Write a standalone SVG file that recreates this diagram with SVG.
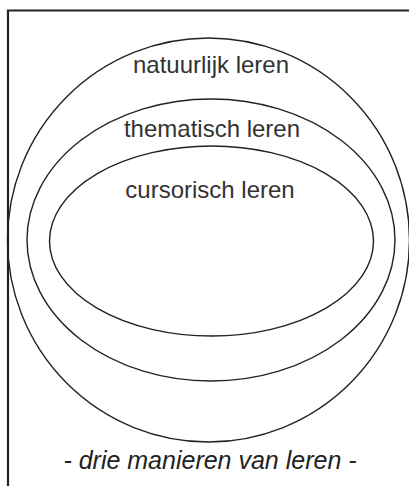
<svg xmlns="http://www.w3.org/2000/svg" width="409" height="486" viewBox="0 0 409 486">
<style>
.frame{fill:none;stroke:#222;stroke-width:2.2}
.ring{fill:none;stroke:#222;stroke-width:1.4}
.lbl{font-family:"Liberation Sans",Arial,sans-serif;font-size:24px;fill:#333;text-anchor:middle}
.cap{font-family:"Liberation Sans",Arial,sans-serif;font-size:25px;font-style:italic;fill:#222;text-anchor:middle}
</style>
<rect width="409" height="486" fill="#fff"/>
<path class="frame" d="M8 486 V10.5 H409"/>
<g id="natuurlijk">
<ellipse class="ring" cx="208.5" cy="240" rx="201" ry="202"/>
<text class="lbl" x="211" y="73">natuurlijk leren</text>
</g>
<g id="thematisch">
<ellipse class="ring" cx="211" cy="240" rx="184" ry="141"/>
<text class="lbl" x="212" y="137">thematisch leren</text>
</g>
<g id="cursorisch">
<ellipse class="ring" cx="211.5" cy="241" rx="162" ry="95"/>
<text class="lbl" x="210" y="198">cursorisch leren</text>
</g>
<g id="connectors"></g>
<text class="cap" x="210" y="469">- drie manieren van leren -</text>
</svg>
